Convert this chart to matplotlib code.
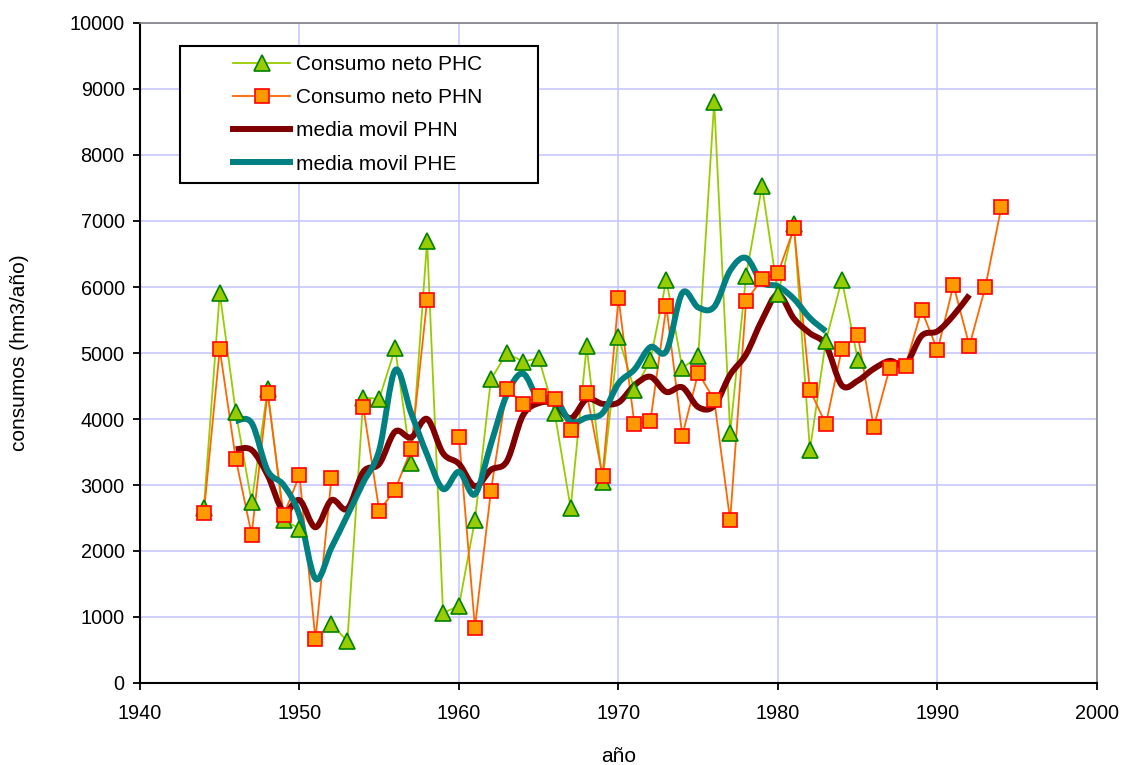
import matplotlib
matplotlib.use("Agg")
import matplotlib.pyplot as plt
import numpy as np
from matplotlib.path import Path
from matplotlib.patches import PathPatch, Rectangle
from matplotlib.lines import Line2D

plt.rcParams['font.family'] = ['Liberation Sans', 'DejaVu Sans']

nan = np.nan

# consumos netos (hm3/año)
years_phc = np.arange(1944, 1986)
phc = [2650, 5910, 4110, 2740, 4450, 2470, 2340, nan, 900, 630,
       4320, 4310, 5070, 3330, 6700, 1060, 1170, 2470, 4600, 5000,
       4870, 4920, 4090, 2650, 5100, 3050, 5240, 4440, 4890, 6110,
       4770, 4950, 8810, 3790, 6170, 7530, 5890, 6950, 3530, 5180,
       6110, 4900]

years_phn = np.arange(1944, 1995)
phn = [2570, 5060, 3400, 2250, 4400, 2540, 3150, 660, 3100, nan,
       4180, 2610, 2930, 3540, 5800, nan, 3720, 840, 2910, 4460,
       4230, 4350, 4310, 3830, 4400, 3140, 5830, 3920, 3970, 5710,
       3750, 4700, 4290, 2470, 5790, 6120, 6210, 6890, 4440, 3920,
       5060, 5270, 3880, 4770, 4810, 5650, 5040, 6030, 5110, 6000,
       7210]

# medias moviles
years_ma_phn = np.arange(1946, 1993)
ma_phn = [3540, 3530, 3150, 2600, 2770, 2360, 2770, 2640, 3200, 3320,
          3810, 3720, 4000, 3480, 3320, 2980, 3230, 3360, 4050, 4240,
          4230, 4010, 4300, 4230, 4250, 4510, 4640, 4410, 4480, 4180,
          4200, 4670, 4980, 5500, 5890, 5520, 5300, 5120, 4510, 4580,
          4760, 4880, 4830, 5260, 5330, 5570, 5880]

years_ma_phe = np.arange(1946, 1984)
ma_phe = [3970, 3940, 3220, 3000, 2540, 1580, 2050, 2540, 3040, 3530,
          4740, 4090, 3460, 2940, 3200, 2860, 3620, 4370, 4690, 4300,
          4320, 3960, 4020, 4090, 4540, 4750, 5090, 5030, 5910, 5690,
          5700, 6250, 6440, 6070, 6010, 5820, 5530, 5330]


def smooth_path(x, y):
    # curva suavizada tipo Excel (bezier por tramos)
    p = np.column_stack([x, y]).astype(float)
    n = len(p)
    verts = [p[0]]
    codes = [Path.MOVETO]
    for i in range(n - 1):
        p0 = p[i - 1] if i > 0 else p[i]
        p1, p2 = p[i], p[i + 1]
        p3 = p[i + 2] if i + 2 < n else p[i + 1]
        verts += [p1 + (p2 - p0) / 6, p2 - (p3 - p1) / 6, p2]
        codes += [Path.CURVE4] * 3
    return Path(verts, codes)


fig = plt.figure(figsize=(11.25, 7.65), dpi=100)
ax = fig.add_axes([140 / 1125, 1 - 683 / 765, 957 / 1125, 660 / 765])

c_phc_line, c_phc_face, c_phc_edge = '#99cc00', '#99cc00', '#008000'
c_phn_line, c_phn_face, c_phn_edge = '#ff6600', '#ff9900', '#ff0000'
c_ma_phn, c_ma_phe = '#800000', '#008080'

ax.plot(years_phc, phc, color=c_phc_line, lw=1.3, zorder=3)
ax.plot(years_phn, phn, color=c_phn_line, lw=1.3, zorder=3)

ax.add_patch(PathPatch(smooth_path(years_ma_phn, ma_phn), fill=False,
                       edgecolor=c_ma_phn, lw=4.3, zorder=4))
ax.add_patch(PathPatch(smooth_path(years_ma_phe, ma_phe), fill=False,
                       edgecolor=c_ma_phe, lw=4.3, zorder=4))

ax.plot(years_phc, phc, ls='none', marker='^', ms=11, mfc=c_phc_face,
        mec=c_phc_edge, mew=1.2, zorder=5)
ax.plot(years_phn, phn, ls='none', marker='s', ms=10.5, mfc=c_phn_face,
        mec=c_phn_edge, mew=1.2, zorder=6)

ax.set_xlim(1940, 2000)
ax.set_ylim(0, 10000)
ax.set_xticks(np.arange(1940, 2001, 10))
ax.set_yticks(np.arange(0, 10001, 1000))
ax.grid(True, color='#c8c8ff', lw=1.2, zorder=0)
ax.set_axisbelow(True)

for s in ['left', 'bottom']:
    ax.spines[s].set_color('black')
    ax.spines[s].set_linewidth(1.5)
for s in ['top', 'right']:
    ax.spines[s].set_color('#808080')
    ax.spines[s].set_linewidth(1.2)

ax.tick_params(axis='both', direction='out', length=5, width=1.3,
               labelsize=14.3, color='black')
ax.tick_params(axis='x', pad=10)
ax.tick_params(axis='y', pad=6)

fig.text(20 / 1125, 1 - 353 / 765, 'consumos (hm3/año)', rotation=90,
         ha='center', va='center', fontsize=15)
fig.text(618.5 / 1125, 1 - 762.5 / 765, 'año', ha='center', va='baseline',
         fontsize=15)

handles = [
    Line2D([], [], color=c_phc_line, lw=1.3, marker='^', ms=11,
           mfc=c_phc_face, mec=c_phc_edge, mew=1.2),
    Line2D([], [], color=c_phn_line, lw=1.3, marker='s', ms=10.5,
           mfc=c_phn_face, mec=c_phn_edge, mew=1.2),
    Line2D([], [], color=c_ma_phn, lw=4.3),
    Line2D([], [], color=c_ma_phe, lw=4.3),
]
labels = ['Consumo neto PHC', 'Consumo neto PHN',
          'media movil PHN', 'media movil PHE']

frame = Rectangle((179.5 / 1125, 1 - 183.3 / 765), 358 / 1125, 137.3 / 765,
                  transform=fig.transFigure, facecolor='white',
                  edgecolor='black', lw=1.5, zorder=4)
fig.add_artist(frame)
leg = fig.legend(handles, labels, loc='upper left',
                 bbox_to_anchor=(233 / 1125, 1 - 55 / 765),
                 frameon=False, fontsize=15, borderpad=0, borderaxespad=0,
                 handlelength=2.75, handletextpad=0.25, labelspacing=0.68,
                 numpoints=1)
leg.set_zorder(5)

fig.savefig('out.png', dpi=100)
